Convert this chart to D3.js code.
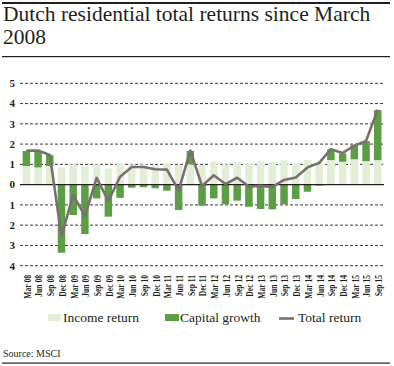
<!DOCTYPE html>
<html><head><meta charset="utf-8">
<script src="https://cdn.jsdelivr.net/npm/d3@7"></script>
<style>
body{margin:0;background:#fff;}
svg text{font-family:"Liberation Serif","DejaVu Serif",serif;fill:#231f20;}
</style></head>
<body><svg id="c" width="394" height="366"></svg>
<script>
const quarters = ["Mar 08","Jun 08","Sep 08","Dec 08","Mar 09","Jun 09","Sep 09","Dec 09","Mar 10","Jun 10","Sep 10","Dec 10","Mar 11","Jun 11","Sep 11","Dec 11","Mar 12","Jun 12","Sep 12","Dec 12","Mar 13","Jun 13","Sep 13","Dec 13","Mar 14","Jun 14","Sep 14","Dec 14","Mar 15","Jun 15","Sep 15"];
const incomeReturn = [0.92,0.85,0.92,0.85,1.0,0.92,1.0,0.8,1.05,1.0,1.0,0.97,1.05,0.97,1.0,0.97,1.16,1.0,1.12,1.02,1.16,1.12,1.21,1.05,1.21,1.1,1.21,1.13,1.25,1.16,1.21];
const capitalGrowth = [0.74,0.8,0.54,-3.36,-1.5,-2.44,-0.68,-1.58,-0.65,-0.15,-0.13,-0.18,-0.3,-1.25,0.66,-1.04,-0.68,-0.97,-0.79,-1.09,-1.2,-1.22,-0.97,-0.71,-0.35,-0.05,0.53,0.41,0.7,0.99,2.47];
const totalReturn = [1.68,1.68,1.46,-2.53,-0.51,-1.55,0.33,-0.8,0.39,0.87,0.87,0.76,0.74,-0.29,1.68,-0.07,0.46,0.03,0.34,-0.09,-0.06,-0.11,0.23,0.35,0.85,1.07,1.75,1.56,1.92,2.16,3.7];
const yTicks = [5,4,3,2,1,0,-1,-2,-3,-4];

const svg = d3.select("#c");
const x = d3.scaleBand().domain(quarters).range([20.5,383.6]).paddingInner(0.36).paddingOuter(0.18);
const y = d3.scaleLinear().domain([-4,5]).range([265.7,83.3]);
const cx = d => x(d) + x.bandwidth()/2;

// rules
svg.append("rect").attr("x",2).attr("y",2).attr("width",388).attr("height",2).attr("fill","#231f20");
svg.append("rect").attr("x",2).attr("y",56).attr("width",388).attr("height",1.2).attr("fill","#231f20");
svg.append("rect").attr("x",2).attr("y",362.5).attr("width",388).attr("height",1.2).attr("fill","#231f20");

// title
const title = svg.append("text").attr("x",3).attr("font-size",21.5);
title.append("tspan").attr("x",3).attr("y",21).text("Dutch residential total returns since March");
title.append("tspan").attr("x",3).attr("y",43.5).text("2008");

// grid
svg.append("g").selectAll("line").data(yTicks.filter(t=>t!==0)).join("line")
  .attr("x1",20).attr("x2",384).attr("y1",d=>y(d)).attr("y2",d=>y(d))
  .attr("stroke","#231f20").attr("stroke-width",0.9).attr("stroke-dasharray","3,2");

// y labels
svg.append("g").selectAll("text").data(yTicks).join("text")
  .attr("x",15).attr("y",d=>y(d)).attr("dy","0.35em").attr("text-anchor","end")
  .attr("font-size",11).attr("font-weight","bold").text(d=>Math.abs(d));

// income bars
svg.append("g").selectAll("rect").data(quarters).join("rect")
  .attr("x",d=>x(d)).attr("width",x.bandwidth())
  .attr("y",(d,i)=>y(incomeReturn[i])).attr("height",(d,i)=>y(0)-y(incomeReturn[i]))
  .attr("fill","#e3eed7");
// capital bars
svg.append("g").selectAll("rect").data(quarters).join("rect")
  .attr("x",d=>x(d)).attr("width",x.bandwidth())
  .attr("y",(d,i)=>capitalGrowth[i]>=0 ? y(incomeReturn[i]+capitalGrowth[i]) : y(0))
  .attr("height",(d,i)=>Math.abs(y(0)-y(capitalGrowth[i])))
  .attr("fill","#5b9e44");

// zero line
svg.append("line").attr("x1",20).attr("x2",384).attr("y1",y(0)).attr("y2",y(0))
  .attr("stroke","#231f20").attr("stroke-width",1.3);

// total line
svg.append("path").datum(quarters)
  .attr("d",d3.line().x(d=>cx(d)).y((d,i)=>y(totalReturn[i])))
  .attr("fill","none").attr("stroke","#7a6f6f").attr("stroke-width",2.6).attr("stroke-linejoin","round");

// x labels
svg.append("g").selectAll("text").data(quarters).join("text")
  .attr("transform",d=>`translate(${cx(d)+1},275) rotate(-90) scale(0.8,1)`)
  .attr("text-anchor","end").attr("dy","0.35em").attr("font-size",9.5).attr("font-weight","bold")
  .text(d=>d);

// legend
const lg = svg.append("g").attr("font-size",13.5);
lg.append("rect").attr("x",48).attr("y",314).attr("width",13).attr("height",7).attr("fill","#e3eed7");
lg.append("text").attr("x",63).attr("y",322).text("Income return");
lg.append("rect").attr("x",165).attr("y",314).attr("width",14).attr("height",7).attr("fill","#5b9e44");
lg.append("text").attr("x",180).attr("y",322).text("Capital growth");
lg.append("line").attr("x1",279).attr("x2",294).attr("y1",318.5).attr("y2",318.5).attr("stroke","#7a6f6f").attr("stroke-width",2.6);
lg.append("text").attr("x",298).attr("y",322).text("Total return");

svg.append("text").attr("x",3).attr("y",357).attr("font-size",10).text("Source: MSCI");
</script></body></html>
